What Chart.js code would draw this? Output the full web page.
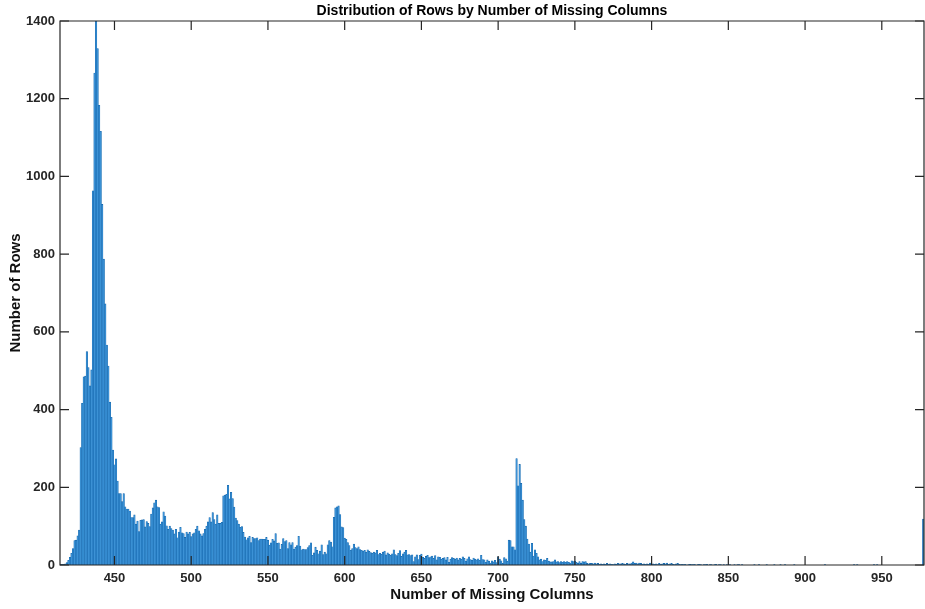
<!DOCTYPE html>
<html>
<head>
<meta charset="utf-8">
<script src="https://cdn.jsdelivr.net/npm/chart.js@4.4.1/dist/chart.umd.min.js"></script>
<style>
  html, body { margin: 0; padding: 0; background: #ffffff; }
  #wrap { width: 925px; height: 609px; }
</style>
</head>
<body>
<div id="wrap"><canvas id="c" width="925" height="609"></canvas></div>
<script>
// ---- data (one bin per integer number of missing columns) ----
const binStart = 415;
// bins 415-453
const countsRise = [2,2,2,3,6,12,20,30,42,63,64,75,90,302,416,484,486,549,508,461,502,963,1266,1400,1329,1183,1116,928,787,672,566,512,419,380,296,258,273,216,184];
// bins 454-524
const countsBumps = [184,163,184,150,144,144,139,122,122,129,105,113,86,115,116,117,98,112,107,99,131,147,160,167,150,148,105,111,137,126,101,92,100,94,90,80,92,70,85,97,83,81,71,85,80,84,73,80,83,92,100,88,80,75,81,92,100,111,122,111,135,117,105,129,107,107,110,178,180,182,205];
// bins 525-606
const countsSlope = [170,187,171,149,121,114,105,97,99,84,72,65,70,74,58,71,68,68,70,63,67,67,66,66,71,64,51,57,66,62,81,56,57,41,53,68,60,63,42,58,52,58,41,46,50,74,49,39,41,40,40,45,50,57,25,31,46,38,29,36,52,27,33,29,52,63,59,47,123,147,150,152,130,98,96,69,66,58,50,38,42,54];
// bins 607-702
const countsTail = [45,42,47,40,38,36,38,33,39,35,32,30,33,31,38,27,30,28,33,36,26,31,28,25,29,39,27,24,30,37,22,29,33,38,26,27,24,26,9,21,26,14,25,28,20,17,22,25,19,21,23,17,24,13,21,20,15,17,19,13,20,7,15,19,17,15,18,13,17,15,21,17,10,16,21,14,12,18,15,13,16,12,25,14,13,7,13,10,5,11,8,12,6,21,15,11];
// bins 703-779
const countsSpike = [4,19,16,10,64,63,47,47,39,274,204,259,210,167,117,100,67,54,33,56,23,39,30,21,13,15,9,13,12,17,10,8,8,9,13,8,9,6,9,7,9,7,9,7,5,11,9,10,7,4,9,4,9,8,9,4,3,4,4,3,5,3,4,2,3,2,3,2,4,2,3,2,1,3,2,4,3];
// bins 780-860
const countsFaint = [3,4,3,2,4,3,3,5,8,4,5,3,5,4,2,3,2,3,2,5,0,3,2,3,1,4,2,3,4,3,5,2,3,4,2,1,3,4,2,1,2,1,2,0,1,2,1,1,2,0,1,2,1,0,1,1,2,0,1,1,0,1,2,0,1,1,0,1,0,1,0,1,0,0,1,0,1,1,0,1,0];
// bins 861-976
const countsSparse = [0,0,0,0,0,0,1,0,0,1, 0,0,0,0,1,0,0,0,0,1, 0,0,0,1,0,0,1,0,0,0, 0,0,1,0,0,0,0,0,0,0, 0,0,0,0,0,0,0,0,0,0, 0,0,1,0,0,0,0,0,0,0, 0,0,0,0,0,0,0,0,0,0, 0,1,0,1,0,0,0,0,0,0, 0,0,0,0,1,0,1,0,0,0, 0,0,0,0,0,0,0,0,0,0, 0,0,0,0,0,0,0,0,0,0, 0,0,0,0,0,0];
// bin 977 (last bin)
const countsLast = [118];

const xTickValues = [450,500,550,600,650,700,750,800,850,900,950];
const yTickValues = [0,200,400,600,800,1000,1200,1400];

const titleText = 'Distribution of Rows by Number of Missing Columns';
const xLabel = 'Number of Missing Columns';
const yLabel = 'Number of Rows';

// ---- build the dataset ----
const rowCounts = [].concat(countsRise, countsBumps, countsSlope, countsTail, countsSpike, countsFaint, countsSparse, countsLast);
const points = rowCounts.map((c, i) => ({ x: binStart + i, y: c }));

const FONT = '"Liberation Sans", Arial, Helvetica, sans-serif';
const AXIS = '#262626';
const TICK_LEN = 9;

const matlabBox = {
  id: 'matlabBox',
  afterDraw(chart) {
    const { ctx, chartArea: a, scales } = chart;
    const xs = scales.x, ys = scales.y;
    ctx.save();
    ctx.strokeStyle = AXIS;
    ctx.lineWidth = 1.2;
    ctx.beginPath();
    ctx.moveTo(a.left, a.top); ctx.lineTo(a.right, a.top);
    ctx.lineTo(a.right, a.bottom); ctx.lineTo(a.left, a.bottom); ctx.closePath();
    ctx.stroke();
    ctx.beginPath();
    xs.ticks.forEach(t => {
      const px = xs.getPixelForValue(t.value);
      ctx.moveTo(px, a.bottom); ctx.lineTo(px, a.bottom - TICK_LEN);
      ctx.moveTo(px, a.top); ctx.lineTo(px, a.top + TICK_LEN);
    });
    ys.ticks.forEach(t => {
      const py = ys.getPixelForValue(t.value);
      ctx.moveTo(a.left, py); ctx.lineTo(a.left + TICK_LEN, py);
      ctx.moveTo(a.right, py); ctx.lineTo(a.right - TICK_LEN, py);
    });
    ctx.stroke();
    // title centred over the axes
    ctx.fillStyle = '#000000';
    ctx.font = 'bold 14px ' + FONT;
    ctx.textAlign = 'center';
    ctx.textBaseline = 'middle';
    ctx.fillText(titleText, (a.left + a.right) / 2, 11);
    ctx.restore();
  }
};

new Chart(document.getElementById('c'), {
  type: 'bar',
  data: {
    datasets: [{
      data: points,
      backgroundColor: 'rgb(60,146,214)',
      borderColor: 'rgb(18,100,170)',
      borderWidth: { left: 0.45, right: 0.45, top: 0.6, bottom: 0 },
      borderSkipped: 'bottom',
      barPercentage: 1,
      categoryPercentage: 1
    }]
  },
  options: {
    responsive: false,
    animation: false,
    layout: { padding: { top: 21, right: 1, left: 0, bottom: 0 } },
    plugins: { legend: { display: false }, tooltip: { enabled: false }, title: { display: false } },
    scales: {
      x: {
        type: 'linear',
        min: 414.5,
        max: 977.5,
        offset: false,
        grid: { display: false, drawTicks: false },
        border: { display: false },
        afterBuildTicks: s => { s.ticks = xTickValues.map(v => ({ value: v })); },
        ticks: {
          color: AXIS, padding: 6, maxRotation: 0, autoSkip: false,
          font: { family: FONT, size: 13, weight: 'bold' },
          callback: v => String(v)
        },
        title: {
          display: true, text: xLabel, color: '#111111',
          font: { family: FONT, size: 15, weight: 'bold' },
          padding: { top: 0, bottom: 5 }
        },
        afterFit: s => { s.height = 44; }
      },
      y: {
        min: 0,
        max: 1400,
        grid: { display: false, drawTicks: false },
        border: { display: false },
        afterBuildTicks: s => { s.ticks = yTickValues.map(v => ({ value: v })); },
        ticks: {
          color: AXIS, padding: 5,
          font: { family: FONT, size: 13, weight: 'bold' },
          callback: v => String(v)
        },
        title: {
          display: true, text: yLabel, color: '#111111',
          font: { family: FONT, size: 15, weight: 'bold' },
          padding: { top: 7, bottom: 0 }
        },
        afterFit: s => { s.width = 60; }
      }
    }
  },
  plugins: [matlabBox]
});
</script>
</body>
</html>
